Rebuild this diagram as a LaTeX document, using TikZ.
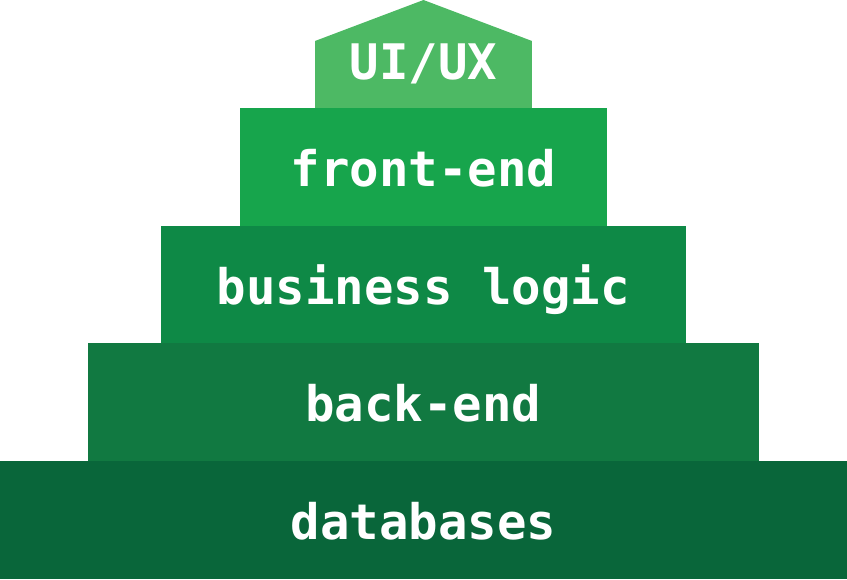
\documentclass[tikz,border=0pt]{standalone}
\usepackage{fontspec}
\newfontfamily\layerfont{DejaVu Sans Mono}
\usetikzlibrary{positioning,calc}
\definecolor{dbgreen}{HTML}{09663A}
\definecolor{begreen}{HTML}{117941}
\definecolor{blgreen}{HTML}{0E8946}
\definecolor{fegreen}{HTML}{17A54C}
\definecolor{uigreen}{HTML}{4DB964}
\tikzset{
  layer/.style={rectangle, inner sep=0pt, outer sep=0pt, minimum height=118pt,
    text=white, font=\layerfont\bfseries\fontsize{49}{49}\selectfont,
    text height=45pt, text depth=5pt}
}
\begin{document}
\begin{tikzpicture}[x=1pt, y=1pt]
    \useasboundingbox (0,0) rectangle (847,579);

    % Vrstvy
    \node[layer, fill=dbgreen, minimum width=847pt] (databases) at (423.5,59) {databases};
    \node[layer, fill=begreen, minimum width=671pt, above=0pt of databases] (backend) {back-end};
    \node[layer, fill=blgreen, minimum width=525pt, minimum height=117pt, above=0pt of backend] (logic) {business logic};
    \node[layer, fill=fegreen, minimum width=367pt, above=0pt of logic] (frontend) {front-end};
    \node[layer, fill=uigreen, minimum width=217pt, minimum height=67pt,
          text height=30pt, text depth=19pt, above=0pt of frontend] (uiux) {UI/UX};

    % Střecha
    \fill[uigreen] (uiux.north west) -- ($(uiux.north)+(0,41)$) -- (uiux.north east) -- cycle;
\end{tikzpicture}
\end{document}
